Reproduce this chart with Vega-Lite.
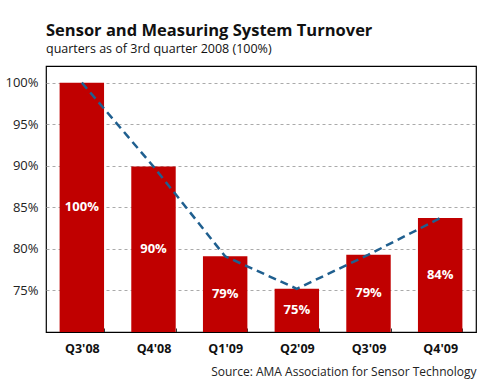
{
  "$schema": "https://vega.github.io/schema/vega-lite/v6.json",
  "width": 430,
  "height": 266,
  "autosize": "none",
  "padding": {"left": 46, "top": 66, "right": 24, "bottom": 54},
  "background": "white",
  "title": {
    "text": "Sensor and Measuring System Turnover",
    "subtitle": "quarters as of 3rd quarter 2008 (100%)",
    "anchor": "start",
    "frame": "group",
    "font": "Open Sans",
    "fontSize": 16.5,
    "fontWeight": "bold",
    "color": "#111111",
    "subtitleFont": "Open Sans",
    "subtitleFontSize": 12.5,
    "subtitleColor": "#111111",
    "subtitlePadding": 3,
    "offset": 11
  },
  "data": {
    "values": [
      {"quarter": "Q3'08", "turnover": 1.0},
      {"quarter": "Q4'08", "turnover": 0.899},
      {"quarter": "Q1'09", "turnover": 0.791},
      {"quarter": "Q2'09", "turnover": 0.752},
      {"quarter": "Q3'09", "turnover": 0.793},
      {"quarter": "Q4'09", "turnover": 0.837}
    ]
  },
  "config": {
    "view": {"stroke": "black", "strokeWidth": 1.2},
    "font": "Open Sans"
  },
  "encoding": {
    "x": {
      "field": "quarter",
      "type": "nominal",
      "sort": null,
      "scale": {"paddingInner": 0.38, "paddingOuter": 0.19},
      "axis": {
        "title": "Source: AMA Association for Sensor Technology",
        "titleAnchor": "end",
        "titleFontWeight": "normal",
        "titleFontSize": 12,
        "titleColor": "#222222",
        "titlePadding": 12,
        "labelAngle": 0,
        "labelFontSize": 12.5,
        "labelFontWeight": "bold",
        "labelColor": "#111111",
        "labelPadding": 14,
        "domainColor": "black",
        "domainWidth": 1.2,
        "tickBand": "extent",
        "tickColor": "#333333",
        "tickSize": -4,
        "grid": false
      }
    }
  },
  "layer": [
    {
      "layer": [
        {
          "mark": {"type": "bar", "color": "#C00000", "clip": true},
          "encoding": {
            "y": {
              "field": "turnover",
              "type": "quantitative",
              "scale": {"domain": [0.7, 1.02], "zero": false, "nice": false},
              "axis": {
                "title": null,
                "values": [0.75, 0.8, 0.85, 0.9, 0.95, 1.0],
                "format": ".0%",
                "labelFontSize": 13,
                "labelColor": "#222222",
                "labelPadding": 8,
                "ticks": false,
                "domain": false,
                "grid": true,
                "gridColor": "#aaaaaa",
                "gridDash": [3, 3],
                "gridWidth": 1
              }
            },
            "y2": {"datum": 0.7}
          }
        },
        {
          "mark": {"type": "line", "color": "#1F5F8F", "strokeWidth": 2.5, "strokeDash": [8, 5]},
          "encoding": {
            "y": {"field": "turnover", "type": "quantitative"}
          }
        }
      ]
    },
    {
      "mark": {"type": "text", "color": "white", "fontWeight": "bold", "fontSize": 13, "baseline": "middle"},
      "encoding": {
        "y": {
          "field": "turnover",
          "type": "quantitative",
          "scale": {"domain": [0.7, 1.34], "zero": false, "nice": false},
          "axis": null
        },
        "text": {"field": "turnover", "type": "quantitative", "format": ".0%"}
      }
    }
  ],
  "resolve": {"scale": {"y": "independent"}}
}
